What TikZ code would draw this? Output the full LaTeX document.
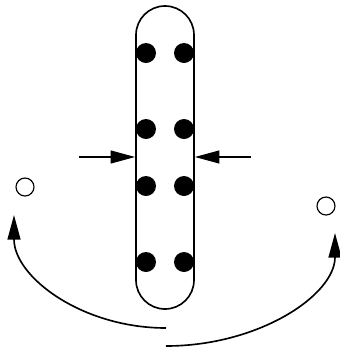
\documentclass[tikz,border=0pt]{standalone}
\usepackage{tikz}
\usetikzlibrary{arrows.meta,positioning}

\begin{document}
\begin{tikzpicture}[
	x=0.03cm, y=-0.03cm,
	>={Triangle[length=21pt, width=11pt]},
	line width=1.4pt,
	bar/.style={draw, rounded corners=0.87cm, minimum width=1.74cm, minimum height=9.09cm, inner sep=0pt},
	dot/.style={circle, fill, inner sep=0pt, minimum size=0.6cm},
	hole/.style={circle, draw, line width=1pt, inner sep=0pt, minimum size=0.54cm}
]
\useasboundingbox (0,0) rectangle (340,352);

\node[bar] (bar) at (165,157.5) {};

% dots in the bar
\foreach \row/\y in {1/53, 2/129, 3/186, 4/262} {
	\node[dot] (l\row) at (146,\y) {};
	\node[dot] (r\row) at (184,\y) {};
}

\node[hole] (holeL) at (25,187) {};
\node[hole] (holeR) at (326,206) {};

\coordinate (pushL) at (79,157);
\coordinate (pushR) at (251,157);

\draw[->] (pushL) -- (bar.west |- pushL);
\draw[->] (pushR) -- (bar.east |- pushR);

\coordinate (startL) at (166,328);
\coordinate (endL) at (14,215);
\coordinate (startR) at (166,346);
\coordinate (endR) at (335,233);

\draw[->] (startL) .. controls (82,328) and (14,277) .. (endL);
\draw[->] (startR) .. controls (259,346) and (335,295) .. (endR);

\end{tikzpicture}
\end{document}
